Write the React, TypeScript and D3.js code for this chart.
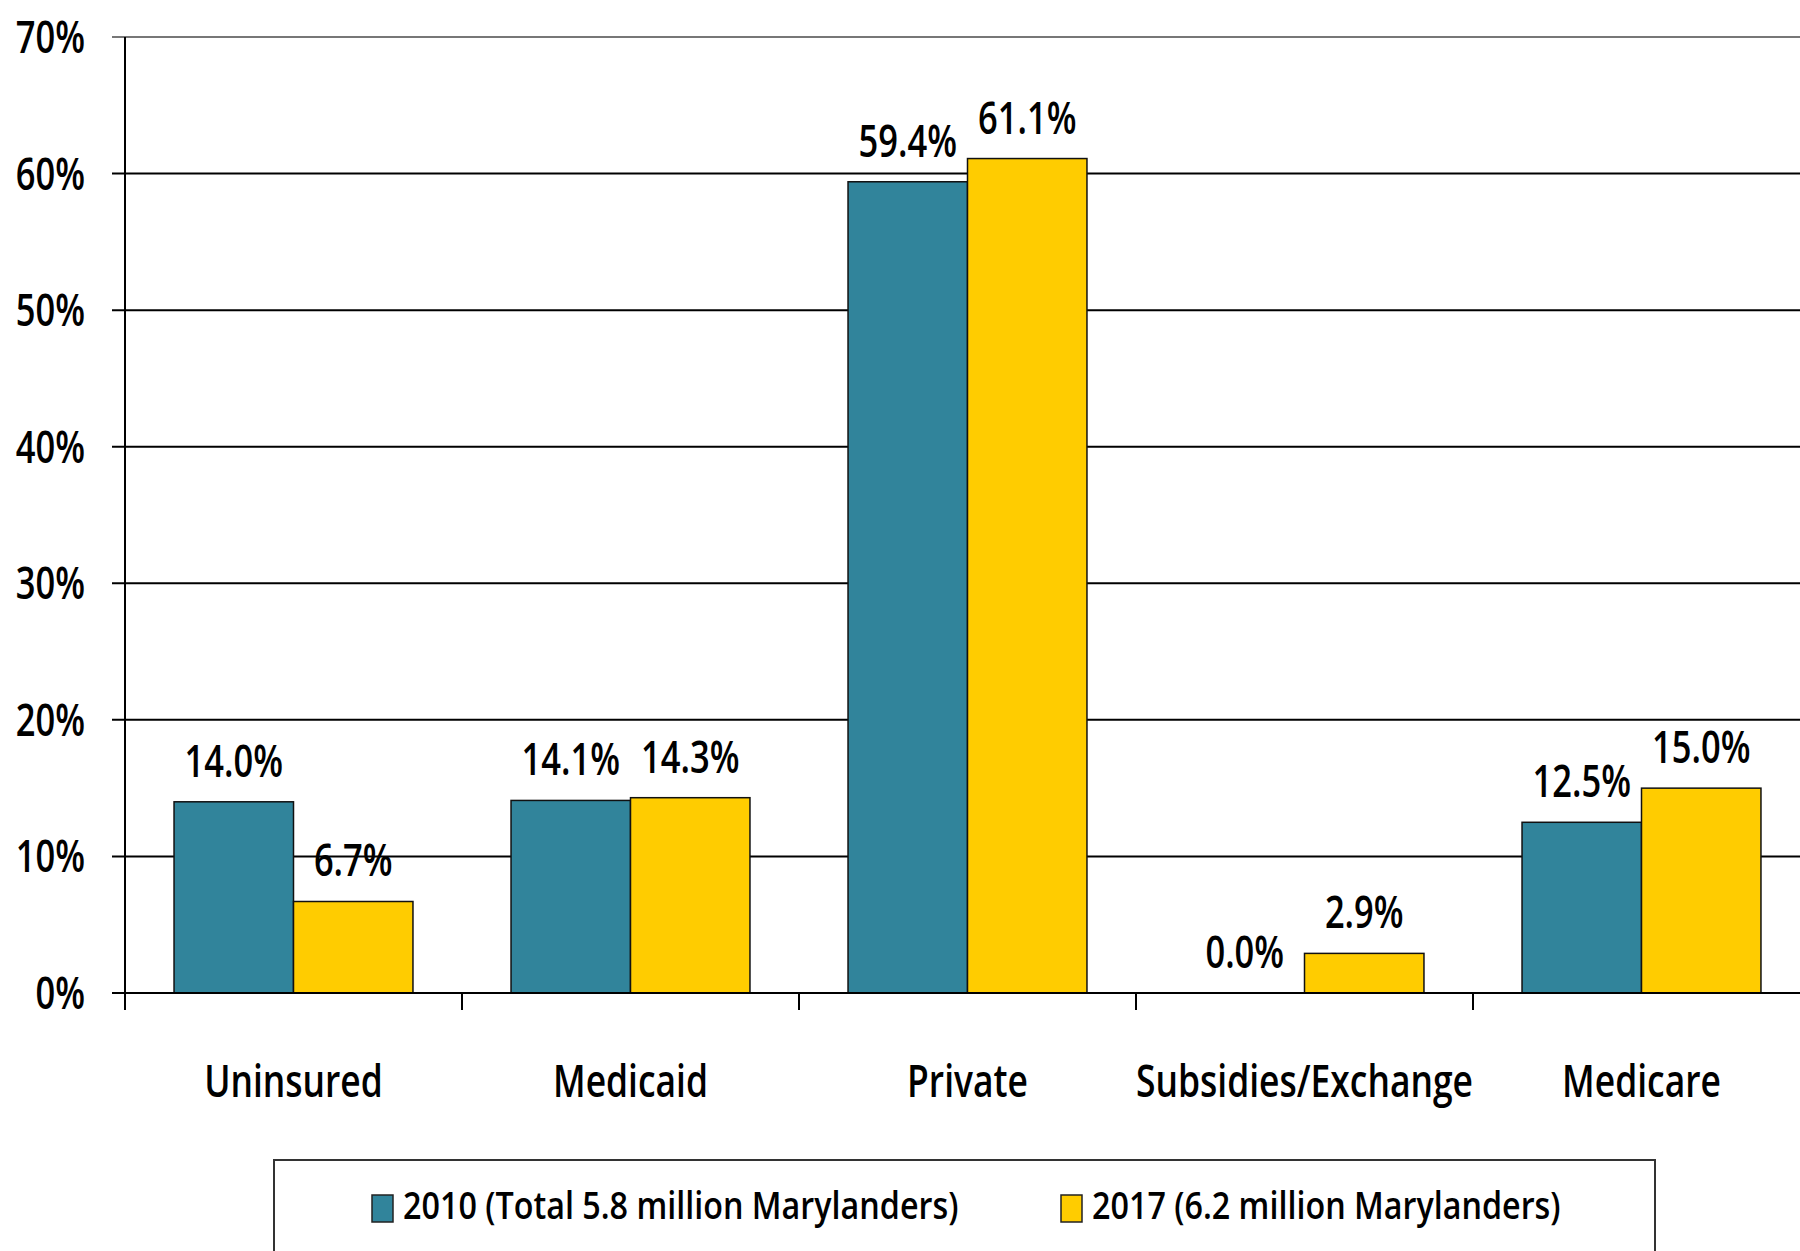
import React from "react";
import * as d3 from "d3";

const categories = ["Uninsured", "Medicaid", "Private", "Subsidies/Exchange", "Medicare"];
const seriesNames = ["2010 (Total 5.8 million Marylanders)", "2017 (6.2 million Marylanders)"];
const values2010 = [14.0, 14.1, 59.4, 0.0, 12.5];
const values2017 = [6.7, 14.3, 61.1, 2.9, 15.0];
const yTicks = [0, 10, 20, 30, 40, 50, 60, 70];
const colors = ["#31849B", "#FFCC00"];

const W = 1800;
const H = 1251;
const FONT = "'Open Sans', 'DejaVu Sans', sans-serif";

function SText({ x, y, size, anchor, sx = 0.75, children }: any) {
  return (
    <text
      transform={`translate(${x},${y}) scale(${sx},1)`}
      textAnchor={anchor}
      fontFamily={FONT}
      fontSize={size}
      fontWeight={600}
      fill="#000"
    >
      {children}
    </text>
  );
}

export default function App() {
  const x0 = 125;
  const step = 337;
  const y = d3.scaleLinear().domain([0, 70]).range([993, 37]);
  const x = d3
    .scaleBand<string>()
    .domain(categories)
    .range([x0, x0 + step * categories.length])
    .paddingInner(0.291)
    .paddingOuter(0.1455);
  const xs = d3.scaleBand<number>().domain([0, 1]).range([0, x.bandwidth()]);
  const series = [values2010, values2017];

  return (
    <svg
      width={W}
      height={H}
      style={{ position: "absolute", left: 0, top: 0, background: "#fff" }}
    >
      <rect x={0} y={0} width={W} height={H} fill="#fff" />
      {yTicks.map((t) => (
        <line
          key={"g" + t}
          x1={112}
          x2={W}
          y1={y(t)}
          y2={y(t)}
          stroke={t === 70 ? "#777" : "#000"}
          strokeWidth={2}
        />
      ))}
      {yTicks.map((t) => (
        <SText key={"yl" + t} x={85} y={y(t) + 16} size={46} anchor="end">
          {t + "%"}
        </SText>
      ))}
      {categories.map((c, i) => (
        <g key={c}>
          {series.map((vals, s) => {
            const bx = (x(c) as number) + (xs(s) as number);
            const v = vals[i];
            return (
              <g key={s}>
                {v > 0 && (
                  <rect
                    x={bx}
                    y={y(v)}
                    width={xs.bandwidth()}
                    height={y(0) - y(v)}
                    fill={colors[s]}
                    stroke="#111"
                    strokeWidth={1.5}
                  />
                )}
                <SText x={bx + xs.bandwidth() / 2} y={y(v) - 25} size={46} anchor="middle">
                  {v.toFixed(1) + "%"}
                </SText>
              </g>
            );
          })}
          <SText x={(x(c) as number) + x.bandwidth() / 2} y={1097} size={46} anchor="middle" sx={0.77}>
            {c}
          </SText>
        </g>
      ))}
      <line x1={x0} x2={x0} y1={y(70)} y2={1010} stroke="#000" strokeWidth={2} />
      <line x1={x0} x2={W} y1={y(0)} y2={y(0)} stroke="#000" strokeWidth={2} />
      {d3.range(categories.length + 1).map((i) => (
        <line
          key={"xt" + i}
          x1={x0 + i * step}
          x2={x0 + i * step}
          y1={y(0)}
          y2={1010}
          stroke="#000"
          strokeWidth={2}
        />
      ))}
      <rect x={274} y={1160} width={1381} height={200} fill="#fff" stroke="#333" strokeWidth={2} />
      {seriesNames.map((n, s) => {
        const lx = s === 0 ? 372 : 1061;
        return (
          <g key={n}>
            <rect x={lx} y={1195} width={21} height={27} fill={colors[s]} stroke="#222" strokeWidth={1.5} />
            <SText x={lx + 31} y={1219} size={38} anchor="start" sx={0.85}>
              {n}
            </SText>
          </g>
        );
      })}
    </svg>
  );
}
